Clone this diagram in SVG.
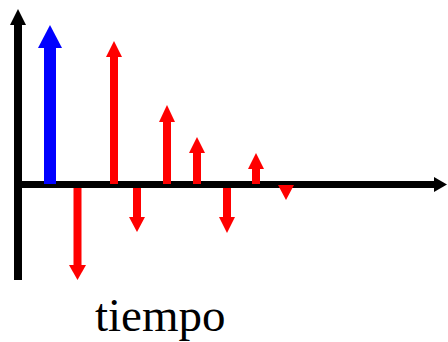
<svg xmlns="http://www.w3.org/2000/svg" width="448" height="342" viewBox="0 0 448 342">
<style>
.ax{fill:#000}
.r{fill:#ff0000}
.b{fill:#0000ff}
.t{font-family:"Liberation Serif","Times New Roman",serif;font-size:47px;fill:#000}
</style>
<rect width="448" height="342" fill="#fff"/>
<g id="axes">
<rect class="ax" x="14" y="24" width="8" height="256"/>
<polygon class="ax" points="18,9 26,25 10,25"/>
<rect class="ax" x="14" y="181" width="421" height="7"/>
<polygon class="ax" points="447,184.5 434,177 434,192"/>
</g>
<g id="impulses">
<g id="blue"><rect class="b" x="44" y="47" width="12" height="137"/><polygon class="b" points="50,25 62,48 38,48"/></g>
<g id="r1"><rect class="r" x="110" y="56" width="8" height="128"/><polygon class="r" points="114,41 122,57 106,57"/></g>
<g id="r2"><rect class="r" x="73.5" y="188" width="8" height="78"/><polygon class="r" points="77.5,280 86,265 69,265"/></g>
<g id="r3"><rect class="r" x="133" y="188" width="8" height="30"/><polygon class="r" points="137,232 145,217 129,217"/></g>
<g id="r4"><rect class="r" x="163" y="121" width="8" height="63"/><polygon class="r" points="167,105 175,122 159,122"/></g>
<g id="r5"><rect class="r" x="193" y="152" width="8" height="32"/><polygon class="r" points="197,137 205,153 189,153"/></g>
<g id="r6"><rect class="r" x="223" y="188" width="8" height="30"/><polygon class="r" points="227,233 235,217 219,217"/></g>
<g id="r7"><rect class="r" x="252" y="168" width="8" height="16"/><polygon class="r" points="256,153 264,169 248,169"/></g>
<g id="r8"><polygon class="r" points="286,200 294,185 278,185"/></g>
</g>
<text class="t" x="95" y="331">tiempo</text>
</svg>
